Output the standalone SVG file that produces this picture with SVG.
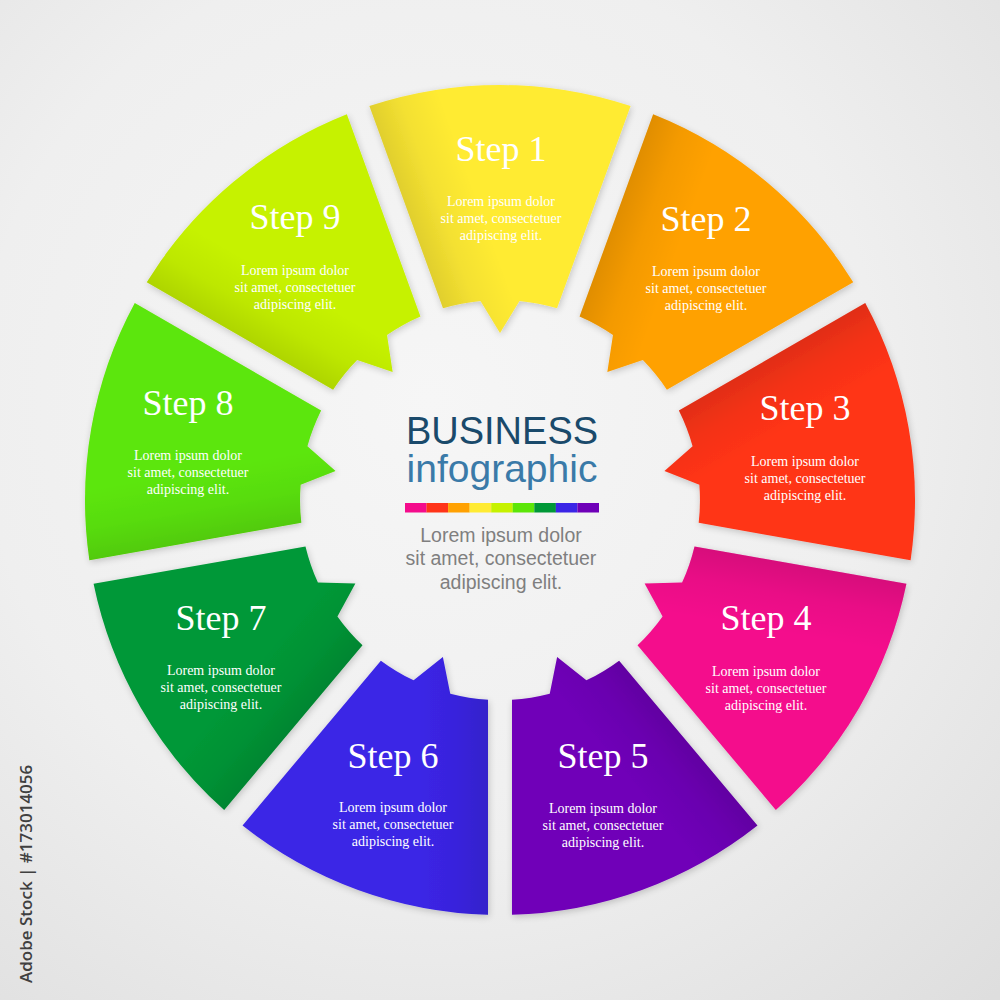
<svg xmlns="http://www.w3.org/2000/svg" xmlns:xlink="http://www.w3.org/1999/xlink" width="1000" height="1000" viewBox="0 0 1000 1000">
  <defs>
    <radialGradient id="bg" cx="430" cy="400" r="820" gradientUnits="userSpaceOnUse">
      <stop offset="0" stop-color="#f6f6f6"/>
      <stop offset="0.55" stop-color="#efefef"/>
      <stop offset="1" stop-color="#dedede"/>
    </radialGradient>
    <linearGradient id="shade" gradientUnits="userSpaceOnUse" x1="406" y1="207" x2="472" y2="183">
      <stop offset="0" stop-color="#000" stop-opacity="0.12"/>
      <stop offset="0.45" stop-color="#000" stop-opacity="0.045"/>
      <stop offset="1" stop-color="#000" stop-opacity="0"/>
    </linearGradient>
    <filter id="sh" x="-15%" y="-15%" width="130%" height="130%">
      <feGaussianBlur in="SourceAlpha" stdDeviation="3.5"/>
      <feOffset dx="1" dy="2"/>
      <feComponentTransfer><feFuncA type="linear" slope="0.2"/></feComponentTransfer>
      <feMerge><feMergeNode/><feMergeNode in="SourceGraphic"/></feMerge>
    </filter>
    <path id="seg" d="M 369.4 106.1 A 415 415 0 0 1 630.6 106.1 L 557.0 308.3 A 200 200 0 0 0 519.5 301.0 L 500 333 L 480.5 301.0 A 200 200 0 0 0 443.0 308.3 Z"/>
    <style>
      .title { font-family: "Liberation Serif", "Times New Roman", serif; font-size: 36px; fill: #ffffff; text-anchor: middle; }
      .body { font-family: "Liberation Serif", "Times New Roman", serif; font-size: 14px; fill: #ffffff; text-anchor: middle; }
      .c1 { fill: #ffeb33; }
      .c2 { fill: #ffa102; }
      .c3 { fill: #ff3419; }
      .c4 { fill: #f40c8c; }
      .c5 { fill: #6f00b8; }
      .c6 { fill: #3b25e6; }
      .c7 { fill: #009837; }
      .c8 { fill: #5ce608; }
      .c9 { fill: #c6f200; }
      .h1 { font-family: "Liberation Sans", Arial, sans-serif; font-size: 38px; fill: #1a4a6b; text-anchor: middle; }
      .h2 { font-family: "Liberation Sans", Arial, sans-serif; font-size: 39px; fill: #3a7aa8; text-anchor: middle; }
      .ctext { font-family: "Liberation Sans", Arial, sans-serif; font-size: 19.5px; fill: #7f7f7f; text-anchor: middle; }
      .wm { font-family: "Open Sans", "Liberation Sans", sans-serif; font-size: 17px; font-weight: 600; fill: #404040; }
    </style>
  </defs>

  <rect x="0" y="0" width="1000" height="1000" fill="url(#bg)"/>

  <g id="step-1">
    <g filter="url(#sh)"><g transform="rotate(0 500 500)"><use xlink:href="#seg" class="c1"/><use xlink:href="#seg" fill="url(#shade)"/></g></g>
    <text class="title" x="501" y="161">Step 1</text>
    <text class="body" x="501" y="206"><tspan x="501">Lorem ipsum dolor</tspan><tspan x="501" dy="17">sit amet, consectetuer</tspan><tspan x="501" dy="17">adipiscing elit.</tspan></text>
  </g>

  <g id="step-2">
    <g filter="url(#sh)"><g transform="rotate(40 500 500)"><use xlink:href="#seg" class="c2"/><use xlink:href="#seg" fill="url(#shade)"/></g></g>
    <text class="title" x="706" y="231">Step 2</text>
    <text class="body" x="706" y="276"><tspan x="706">Lorem ipsum dolor</tspan><tspan x="706" dy="17">sit amet, consectetuer</tspan><tspan x="706" dy="17">adipiscing elit.</tspan></text>
  </g>

  <g id="step-3">
    <g filter="url(#sh)"><g transform="rotate(80 500 500)"><use xlink:href="#seg" class="c3"/><use xlink:href="#seg" fill="url(#shade)"/></g></g>
    <text class="title" x="805" y="420">Step 3</text>
    <text class="body" x="805" y="466"><tspan x="805">Lorem ipsum dolor</tspan><tspan x="805" dy="17">sit amet, consectetuer</tspan><tspan x="805" dy="17">adipiscing elit.</tspan></text>
  </g>

  <g id="step-4">
    <g filter="url(#sh)"><g transform="rotate(120 500 500)"><use xlink:href="#seg" class="c4"/><use xlink:href="#seg" fill="url(#shade)"/></g></g>
    <text class="title" x="766" y="630">Step 4</text>
    <text class="body" x="766" y="676"><tspan x="766">Lorem ipsum dolor</tspan><tspan x="766" dy="17">sit amet, consectetuer</tspan><tspan x="766" dy="17">adipiscing elit.</tspan></text>
  </g>

  <g id="step-5">
    <g filter="url(#sh)"><g transform="rotate(160 500 500)"><use xlink:href="#seg" class="c5"/><use xlink:href="#seg" fill="url(#shade)"/></g></g>
    <text class="title" x="603" y="768">Step 5</text>
    <text class="body" x="603" y="813"><tspan x="603">Lorem ipsum dolor</tspan><tspan x="603" dy="17">sit amet, consectetuer</tspan><tspan x="603" dy="17">adipiscing elit.</tspan></text>
  </g>

  <g id="step-6">
    <g filter="url(#sh)"><g transform="rotate(200 500 500)"><use xlink:href="#seg" class="c6"/><use xlink:href="#seg" fill="url(#shade)"/></g></g>
    <text class="title" x="393" y="768">Step 6</text>
    <text class="body" x="393" y="812"><tspan x="393">Lorem ipsum dolor</tspan><tspan x="393" dy="17">sit amet, consectetuer</tspan><tspan x="393" dy="17">adipiscing elit.</tspan></text>
  </g>

  <g id="step-7">
    <g filter="url(#sh)"><g transform="rotate(240 500 500)"><use xlink:href="#seg" class="c7"/><use xlink:href="#seg" fill="url(#shade)"/></g></g>
    <text class="title" x="221" y="630">Step 7</text>
    <text class="body" x="221" y="675"><tspan x="221">Lorem ipsum dolor</tspan><tspan x="221" dy="17">sit amet, consectetuer</tspan><tspan x="221" dy="17">adipiscing elit.</tspan></text>
  </g>

  <g id="step-8">
    <g filter="url(#sh)"><g transform="rotate(280 500 500)"><use xlink:href="#seg" class="c8"/><use xlink:href="#seg" fill="url(#shade)"/></g></g>
    <text class="title" x="188" y="415">Step 8</text>
    <text class="body" x="188" y="460"><tspan x="188">Lorem ipsum dolor</tspan><tspan x="188" dy="17">sit amet, consectetuer</tspan><tspan x="188" dy="17">adipiscing elit.</tspan></text>
  </g>

  <g id="step-9">
    <g filter="url(#sh)"><g transform="rotate(320 500 500)"><use xlink:href="#seg" class="c9"/><use xlink:href="#seg" fill="url(#shade)"/></g></g>
    <text class="title" x="295" y="229">Step 9</text>
    <text class="body" x="295" y="275"><tspan x="295">Lorem ipsum dolor</tspan><tspan x="295" dy="17">sit amet, consectetuer</tspan><tspan x="295" dy="17">adipiscing elit.</tspan></text>
  </g>

  <g id="center">
    <text class="h1" x="502" y="444">BUSINESS</text>
    <text class="h2" x="502" y="482">infographic</text>
    <g id="color-bar">
      <rect x="405" y="503" width="21.6" height="9.5" fill="#f40c8c"/>
      <rect x="426.5" y="503" width="21.6" height="9.5" fill="#ff3419"/>
      <rect x="448.1" y="503" width="21.6" height="9.5" fill="#ffa102"/>
      <rect x="469.6" y="503" width="21.6" height="9.5" fill="#ffeb33"/>
      <rect x="491.2" y="503" width="21.6" height="9.5" fill="#c6f200"/>
      <rect x="512.7" y="503" width="21.6" height="9.5" fill="#5ce608"/>
      <rect x="534.3" y="503" width="21.6" height="9.5" fill="#009837"/>
      <rect x="555.8" y="503" width="21.6" height="9.5" fill="#3b25e6"/>
      <rect x="577.4" y="503" width="21.6" height="9.5" fill="#6f00b8"/>
    </g>
    <text class="ctext" x="501" y="542"><tspan x="501">Lorem ipsum dolor</tspan><tspan x="501" dy="23.3">sit amet, consectetuer</tspan><tspan x="501" dy="23.3">adipiscing elit.</tspan></text>
  </g>

  <text class="wm" transform="translate(32 983) rotate(-90)">Adobe Stock | #173014056</text>
</svg>
